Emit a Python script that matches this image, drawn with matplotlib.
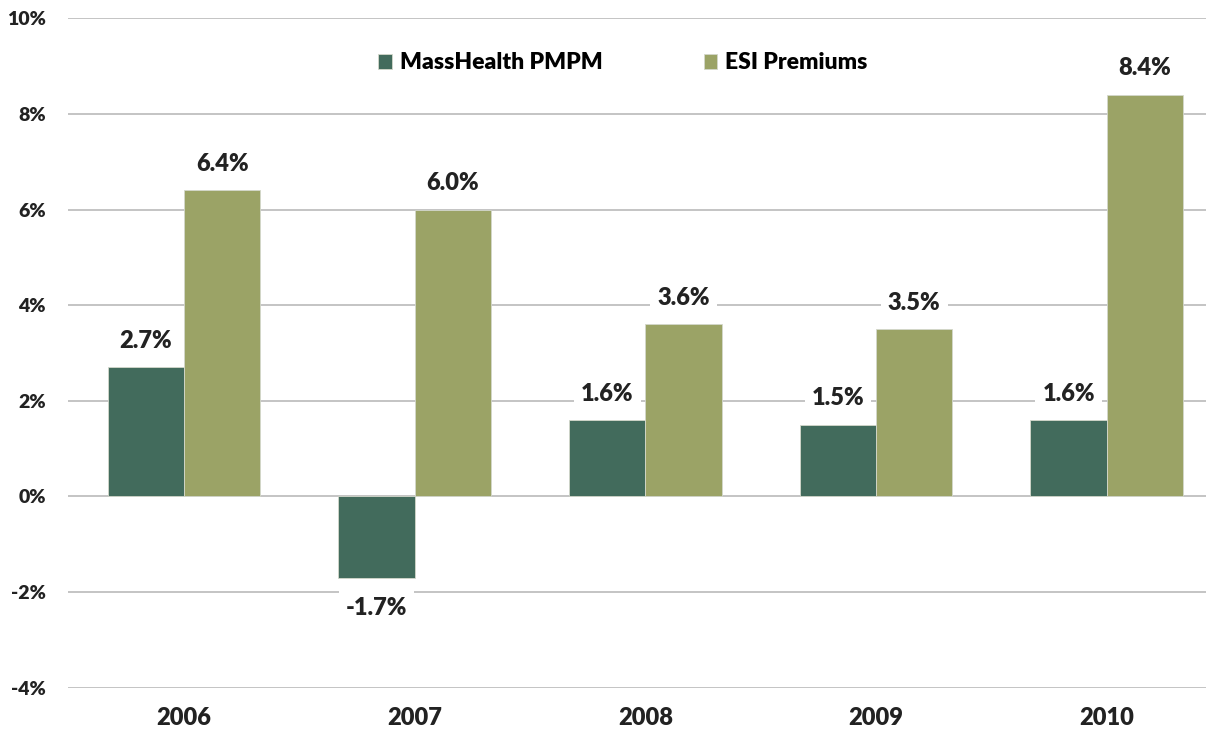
import numpy as np
import matplotlib.pyplot as plt

years = ['2006', '2007', '2008', '2009', '2010']
masshealth = [2.7, -1.7, 1.6, 1.5, 1.6]
esi = [6.4, 6.0, 3.6, 3.5, 8.4]
yticks = [-4, -2, 0, 2, 4, 6, 8, 10]

dark = '#426b5c'
olive = '#9ba366'
txt = '#222222'

plt.rcParams['font.family'] = ['Lato', 'DejaVu Sans']
plt.rcParams['font.weight'] = 'bold'

fig = plt.figure(figsize=(12.06, 7.42), dpi=100)
ax = fig.add_axes([0.0564, 0.0732, 0.9436, 0.9021])

x = np.arange(len(years))
w = 0.331
b1 = ax.bar(x - w/2, masshealth, w, color=dark, edgecolor='#d4d8cc', linewidth=0.6,
            zorder=3, label='MassHealth PMPM')
b2 = ax.bar(x + w/2, esi, w, color=olive, edgecolor='#d4d8cc', linewidth=0.6,
            zorder=3, label='ESI Premiums')

# value labels on white boxes (they hide the gridlines behind them)
for bars, vals in [(b1, masshealth), (b2, esi)]:
    for r, v in zip(bars, vals):
        xc = r.get_x() + r.get_width()/2
        off = 19 if v >= 0 else -22
        ax.annotate('%.1f%%' % v, (xc, v), xytext=(0, off), textcoords='offset points',
                    ha='center', va='center', fontsize=17, fontweight='heavy', color=txt,
                    zorder=4, bbox=dict(boxstyle='square,pad=0.3', fc='white', ec='none'))

ax.set_xlim(-0.503, 4.43)
ax.set_ylim(-4, 10)
ax.set_yticks(yticks)
ax.set_yticklabels(['%d%%' % t for t in yticks], fontsize=14, fontweight='heavy', color=txt)
ax.set_xticks(x)
ax.set_xticklabels(years, fontsize=17, fontweight='heavy', color=txt)
ax.tick_params(axis='both', length=0)
ax.tick_params(axis='y', pad=16)
ax.tick_params(axis='x', pad=14)
ax.grid(axis='y', color='#c4c4c4', linewidth=1.4, zorder=0)
for s in ax.spines.values():
    s.set_visible(False)

ax.legend(loc='upper left', bbox_to_anchor=(0.2545, 0.98), ncol=2, frameon=False,
          handlelength=0.6, handleheight=0.6, handletextpad=0.35,
          columnspacing=4.4, prop={'weight': 'heavy', 'size': 16.5})

fig.savefig('out.png', dpi=100)
